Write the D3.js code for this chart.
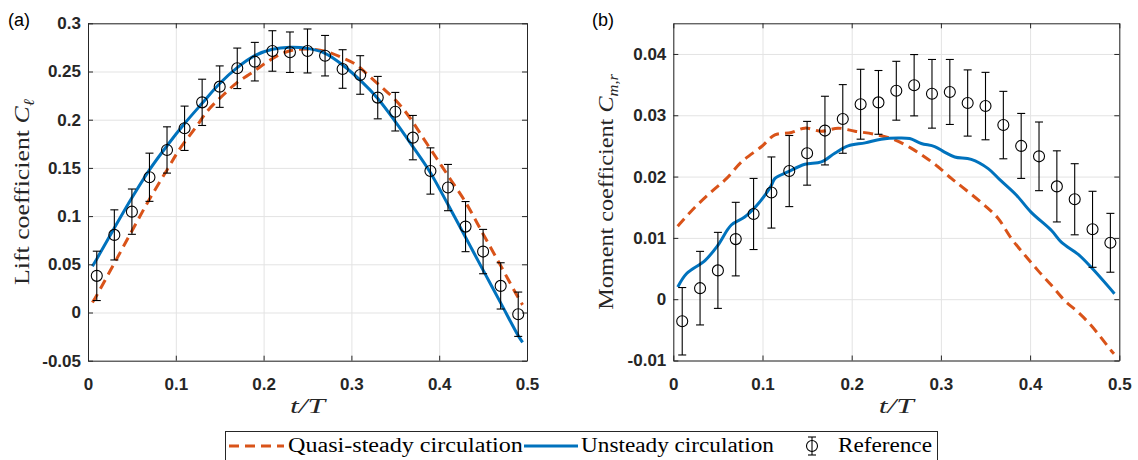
<!DOCTYPE html>
<html>
<head>
<meta charset="utf-8">
<script src="https://cdn.jsdelivr.net/npm/d3@7"></script>
<style>
  body { margin: 0; background: #fff; }
  svg { display: block; }
</style>
</head>
<body>
<script>
// reference points, both panels
const tRef = [0.01, 0.03, 0.05, 0.07, 0.09, 0.11, 0.13, 0.15, 0.17, 0.19, 0.21, 0.23, 0.25,
  0.27, 0.29, 0.31, 0.33, 0.35, 0.37, 0.39, 0.41, 0.43, 0.45, 0.47, 0.49]

// (a) lift
const liftRef = [0.038, 0.0805, 0.1046, 0.1403, 0.1686, 0.1911, 0.218, 0.2343, 0.2533, 0.2602, 0.2713, 0.270, 0.2713,
  0.2664, 0.2526, 0.2464, 0.2229, 0.2083, 0.1814, 0.1468, 0.1296, 0.0891, 0.0632, 0.0276, -0.0018]
const liftErr = [0.0256, 0.026, 0.0235, 0.025, 0.024, 0.023, 0.024, 0.0215, 0.021, 0.020, 0.021, 0.021, 0.0228,
  0.021, 0.020, 0.020, 0.022, 0.020, 0.023, 0.024, 0.024, 0.026, 0.023, 0.024, 0.023]
const liftUnsteadyT = [0.005, 0.01, 0.03, 0.05, 0.07, 0.09, 0.11, 0.13, 0.15, 0.17, 0.19, 0.21, 0.23, 0.25,
  0.27, 0.29, 0.31, 0.33, 0.35, 0.37, 0.39, 0.41, 0.43, 0.45, 0.47, 0.49, 0.495]
const liftUnsteady = [0.048, 0.0556, 0.0877, 0.119, 0.148, 0.173, 0.196, 0.217, 0.2375, 0.254, 0.2664, 0.273, 0.2751, 0.274,
  0.2689, 0.2568, 0.241, 0.222, 0.198, 0.172, 0.145, 0.112, 0.078, 0.044, 0.010, -0.024, -0.031]
const liftQuasiT = [0.005, 0.01, 0.03, 0.05, 0.07, 0.09, 0.105, 0.122, 0.137, 0.154, 0.169, 0.188, 0.2035, 0.219, 0.234,
  0.253, 0.272, 0.291, 0.306, 0.321, 0.336, 0.352, 0.367, 0.382, 0.397, 0.412, 0.43, 0.45, 0.47, 0.49, 0.495]
const liftQuasi = [0.0103, 0.018, 0.0511, 0.0846, 0.1175, 0.1479, 0.1704, 0.1911, 0.2101, 0.2256, 0.238, 0.2495, 0.2595, 0.2678, 0.2723,
  0.2733, 0.2706, 0.2637, 0.2568, 0.2446, 0.2326, 0.2187, 0.2015, 0.1807, 0.16, 0.1393, 0.1144, 0.0815, 0.0486, 0.0154, 0.0079]

// (b) moment
const momentRef = [-0.0036, 0.0018, 0.0047, 0.0098, 0.0139, 0.0174, 0.0209, 0.0238, 0.0275, 0.0294, 0.0318, 0.0321, 0.034,
  0.0349, 0.0335, 0.0338, 0.032, 0.0315, 0.0284, 0.025, 0.0233, 0.0184, 0.0163, 0.0114, 0.0092]
const momentErr = [0.0055, 0.006, 0.0062, 0.006, 0.0058, 0.0058, 0.0058, 0.0052, 0.0056, 0.0056, 0.0057, 0.0052, 0.0048,
  0.005, 0.0056, 0.0053, 0.0054, 0.0055, 0.0055, 0.0053, 0.0056, 0.0058, 0.0058, 0.0062, 0.0048]
const momentUnsteadyT = [0.005, 0.015, 0.0355, 0.05, 0.065, 0.08, 0.093, 0.103, 0.11, 0.114, 0.129, 0.1475, 0.166, 0.181,
  0.196, 0.215, 0.233, 0.252, 0.265, 0.278, 0.293, 0.304, 0.3155, 0.334, 0.353, 0.366, 0.3845, 0.401, 0.424, 0.435,
  0.454, 0.4685, 0.4946]
const momentUnsteady = [0.002, 0.0042, 0.0063, 0.0088, 0.0121, 0.0134, 0.0152, 0.017, 0.0186, 0.0197, 0.0208, 0.022, 0.0224, 0.0238,
  0.025, 0.0255, 0.0261, 0.0263, 0.0262, 0.0254, 0.0249, 0.024, 0.0232, 0.0228, 0.0213, 0.0195, 0.017, 0.0142, 0.0112, 0.0093,
  0.0073, 0.0052, 0.0009]
const momentQuasiT = [0.0049, 0.0243, 0.0448, 0.0598, 0.0766, 0.099, 0.1139, 0.1326, 0.1475, 0.1662, 0.1848, 0.2035, 0.2259,
  0.2483, 0.267, 0.2819, 0.2967, 0.3117, 0.323, 0.349, 0.364, 0.379, 0.394, 0.4087, 0.4237, 0.4386, 0.4536, 0.4685,
  0.491, 0.494]
const momentQuasi = [0.0119, 0.015, 0.0178, 0.0197, 0.0224, 0.0249, 0.0268, 0.0272, 0.0279, 0.0274, 0.0279, 0.0274, 0.0269,
  0.026, 0.0246, 0.0232, 0.0216, 0.0197, 0.0184, 0.0153, 0.0132, 0.0099, 0.0072, 0.0047, 0.0023, -0.0002, -0.0021, -0.0043,
  -0.0084, -0.0089]

const xTicks = [0, 0.1, 0.2, 0.3, 0.4, 0.5]
const liftTicks = [-0.05, 0, 0.05, 0.1, 0.15, 0.2, 0.25, 0.3]
const momentTicks = [-0.01, 0, 0.01, 0.02, 0.03, 0.04]

const width = 1138
const height = 460
const blue = '#0072bd'
const orange = '#d95319'
const axisColor = '#262626'
const tickFont = 'Liberation Sans, Arial, sans-serif'
const serif = 'Liberation Serif, Times New Roman, serif'

const svg = d3.select('body')
  .append('svg')
  .attr('width', width)
  .attr('height', height)

const fmt = d => String(+d.toFixed(3))

// stretch a text horizontally to a target width (latex fonts run wider than Times)
function stretch(sel, target) {
  const w = sel.node().getComputedTextLength()
  sel.attr('transform', `scale(${target / w},1)`)
}

function panel(opts) {
  const { left, right, top, bottom, yDomain, yTicks } = opts
  const x = d3.scaleLinear().domain([0, 0.5]).range([left, right])
  const y = d3.scaleLinear().domain(yDomain).range([bottom, top])
  const g = svg.append('g')

  // grid
  g.append('g')
    .attr('transform', `translate(0,${bottom})`)
    .call(d3.axisBottom(x).tickValues(xTicks).tickSize(-(bottom - top)).tickFormat(''))
    .call(s => s.select('.domain').remove())
    .selectAll('line').attr('stroke', '#e3e3e3')
  g.append('g')
    .attr('transform', `translate(${left},0)`)
    .call(d3.axisLeft(y).tickValues(yTicks).tickSize(-(right - left)).tickFormat(''))
    .call(s => s.select('.domain').remove())
    .selectAll('line').attr('stroke', '#e3e3e3')

  const line = (ts, vs) => d3.line()
    .x((d, i) => x(ts[i]))
    .y(d => y(d))
    .curve(d3.curveCatmullRom)(vs)

  g.append('path')
    .attr('d', line(opts.quasiT, opts.quasi))
    .attr('fill', 'none')
    .attr('stroke', orange)
    .attr('stroke-width', 3)
    .attr('stroke-dasharray', '10,6')

  g.append('path')
    .attr('d', line(opts.unsteadyT, opts.unsteady))
    .attr('fill', 'none')
    .attr('stroke', blue)
    .attr('stroke-width', 3)

  // error bars
  const eb = g.append('g').attr('stroke', '#000').attr('stroke-width', 1.1).attr('fill', 'none')
  tRef.forEach((t, i) => {
    const cx = x(t)
    const y0 = y(opts.ref[i] - opts.err[i])
    const y1 = y(opts.ref[i] + opts.err[i])
    eb.append('line').attr('x1', cx).attr('x2', cx).attr('y1', y0).attr('y2', y1)
    eb.append('line').attr('x1', cx - 4).attr('x2', cx + 4).attr('y1', y0).attr('y2', y0)
    eb.append('line').attr('x1', cx - 4).attr('x2', cx + 4).attr('y1', y1).attr('y2', y1)
    eb.append('circle').attr('cx', cx).attr('cy', y(opts.ref[i])).attr('r', 5.5)
  })

  // axes box with inward ticks
  const styleAxis = s => {
    s.selectAll('path, line').attr('stroke', axisColor)
    s.selectAll('text')
      .attr('fill', axisColor)
      .attr('font-family', tickFont)
      .attr('font-weight', 'bold')
      .attr('font-size', 17)
  }
  g.append('g')
    .attr('transform', `translate(0,${bottom})`)
    .call(d3.axisBottom(x).tickValues(xTicks).tickSizeInner(-5).tickSizeOuter(0).tickPadding(17).tickFormat(fmt))
    .call(styleAxis)
  g.append('g')
    .attr('transform', `translate(0,${top})`)
    .call(d3.axisTop(x).tickValues(xTicks).tickSizeInner(-5).tickSizeOuter(0).tickFormat(''))
    .call(styleAxis)
  g.append('g')
    .attr('transform', `translate(${left},0)`)
    .call(d3.axisLeft(y).tickValues(yTicks).tickSizeInner(-5).tickSizeOuter(0).tickPadding(7).tickFormat(fmt))
    .call(styleAxis)
  g.append('g')
    .attr('transform', `translate(${right},0)`)
    .call(d3.axisRight(y).tickValues(yTicks).tickSizeInner(-5).tickSizeOuter(0).tickFormat(''))
    .call(styleAxis)

  // x title
  const xt = g.append('g')
    .attr('transform', `translate(${(left + right) / 2},413)`)
    .append('text')
    .attr('text-anchor', 'middle')
    .attr('font-family', serif)
    .attr('font-style', 'italic')
    .attr('font-size', 22)
    .attr('fill', axisColor)
    .text('t/T')
  stretch(xt, 35)

  // y title
  const yt = g.append('g')
    .attr('transform', `translate(${opts.titleX},${(top + bottom) / 2}) rotate(-90)`)
    .append('text')
    .attr('text-anchor', 'middle')
    .attr('dy', '0.35em')
    .attr('font-family', serif)
    .attr('font-size', 22)
    .attr('fill', axisColor)
  yt.append('tspan').text(opts.title + ' ')
  yt.append('tspan').attr('font-style', 'italic').text('C')
  yt.append('tspan').attr('font-style', 'italic').attr('font-size', 15).attr('dy', 5).text(opts.sub)
  stretch(yt, opts.titleLen)

  svg.append('text')
    .attr('x', opts.labelX)
    .attr('y', 26)
    .attr('font-family', tickFont)
    .attr('font-size', 18)
    .attr('fill', '#000')
    .text(opts.label)
}

panel({
  left: 88, right: 527, top: 23.3, bottom: 360.7,
  yDomain: [-0.05, 0.3], yTicks: liftTicks,
  ref: liftRef, err: liftErr,
  unsteadyT: liftUnsteadyT, unsteady: liftUnsteady,
  quasiT: liftQuasiT, quasi: liftQuasi,
  title: 'Lift coefficient', sub: 'ℓ', titleX: 21, titleLen: 186, label: '(a)', labelX: 8
})

panel({
  left: 673.3, right: 1119.3, top: 23.3, bottom: 360.5,
  yDomain: [-0.01, 0.045], yTicks: momentTicks,
  ref: momentRef, err: momentErr,
  unsteadyT: momentUnsteadyT, unsteady: momentUnsteady,
  quasiT: momentQuasiT, quasi: momentQuasi,
  title: 'Moment coefficient', sub: 'm,r', titleX: 605, titleLen: 236, label: '(b)', labelX: 592
})

// legend
const lg = svg.append('g')
lg.append('rect')
  .attr('x', 225.5).attr('y', 431.5)
  .attr('width', 712).attr('height', 34)
  .attr('fill', '#fff').attr('stroke', axisColor).attr('stroke-width', 1)
const ly = 446
lg.append('line')
  .attr('x1', 229).attr('x2', 284).attr('y1', ly).attr('y2', ly)
  .attr('stroke', orange).attr('stroke-width', 3).attr('stroke-dasharray', '10,6')
lg.append('line')
  .attr('x1', 524).attr('x2', 578).attr('y1', ly).attr('y2', ly)
  .attr('stroke', blue).attr('stroke-width', 3)
const le = lg.append('g').attr('stroke', '#000').attr('stroke-width', 1.1).attr('fill', 'none')
le.append('line').attr('x1', 812).attr('x2', 812).attr('y1', ly - 9).attr('y2', ly + 9)
le.append('line').attr('x1', 808).attr('x2', 816).attr('y1', ly - 9).attr('y2', ly - 9)
le.append('line').attr('x1', 808).attr('x2', 816).attr('y1', ly + 9).attr('y2', ly + 9)
le.append('circle').attr('cx', 812).attr('cy', ly).attr('r', 5.5)

const legendText = [['Quasi-steady circulation', 288, 235], ['Unsteady circulation', 581, 193], ['Reference', 838, 94]]
legendText.forEach(d => {
  const t = lg.append('g')
    .attr('transform', `translate(${d[1]},${ly + 6})`)
    .append('text')
    .attr('font-family', serif)
    .attr('font-size', 20)
    .attr('fill', '#000')
    .text(d[0])
  stretch(t, d[2])
})
</script>
</body>
</html>
